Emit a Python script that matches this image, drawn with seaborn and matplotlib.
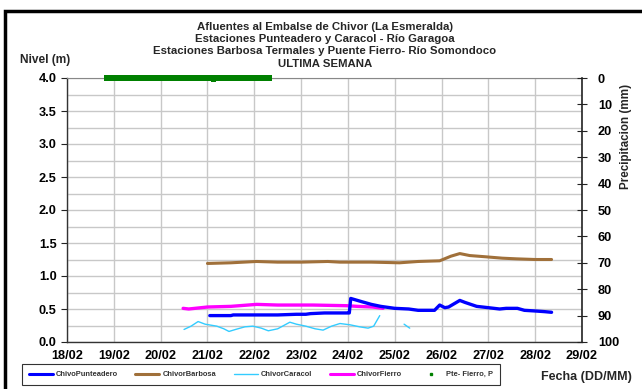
import matplotlib
matplotlib.use("Agg")
import matplotlib.pyplot as plt
from matplotlib.lines import Line2D
from matplotlib.patches import Rectangle
import numpy as np
import seaborn as sns

# --- data (time in days of February, level in m, rain in mm) ---
punteadero_t = [21.05, 21.5, 21.55, 22.0, 22.5, 22.9, 23.1, 23.2, 23.5, 24.0, 24.03,
                24.06, 24.3, 24.5, 24.7, 25.0, 25.3, 25.5, 25.85, 25.96, 26.07, 26.15,
                26.39, 26.5, 26.75, 27.0, 27.24, 27.38, 27.62, 27.77, 28.0, 28.2, 28.35]
punteadero_nivel = [0.40, 0.40, 0.41, 0.41, 0.41, 0.42, 0.42, 0.43, 0.44, 0.44, 0.44,
                    0.66, 0.61, 0.57, 0.54, 0.51, 0.50, 0.48, 0.48, 0.56, 0.52, 0.53,
                    0.63, 0.60, 0.54, 0.52, 0.50, 0.51, 0.51, 0.48, 0.47, 0.46, 0.45]

barbosa_t = [21.0, 21.5, 22.05, 22.5, 23.0, 23.57, 23.83, 24.5, 25.1, 25.5, 25.96,
             26.2, 26.39, 26.6, 26.96, 27.3, 27.6, 28.0, 28.35]
barbosa_nivel = [1.19, 1.20, 1.22, 1.21, 1.21, 1.22, 1.21, 1.21, 1.20, 1.22, 1.23,
                 1.30, 1.34, 1.31, 1.29, 1.27, 1.26, 1.25, 1.25]

caracol_t = [20.5, 20.65, 20.8, 20.95, 21.2, 21.35, 21.46, 21.6, 21.8, 21.97, 22.15,
             22.3, 22.5, 22.76, 22.9, 23.1, 23.3, 23.47, 23.65, 23.83, 24.05, 24.25,
             24.43, 24.55, 24.68]
caracol_nivel = [0.19, 0.24, 0.31, 0.27, 0.24, 0.20, 0.16, 0.19, 0.23, 0.24, 0.21,
                 0.17, 0.20, 0.30, 0.27, 0.24, 0.20, 0.18, 0.24, 0.28, 0.26, 0.23,
                 0.21, 0.24, 0.40]
caracol2_t = [25.2, 25.32]
caracol2_nivel = [0.27, 0.21]

fierro_t = [20.48, 20.6, 21.0, 21.5, 22.05, 22.5, 23.25, 23.97, 24.2, 24.53, 24.75]
fierro_nivel = [0.51, 0.50, 0.53, 0.54, 0.57, 0.56, 0.56, 0.55, 0.54, 0.53, 0.51]

# hourly rain at Pte-Fierro, 18/02 20:00 to 22/02 08:00
lluvia_inicio = 18 + 20 / 24
lluvia_mm = [0, 0, 0, 0, 0, 0, 0, 0, 0, 0, 0, 0,
             0, 0, 0, 0, 0, 0, 0, 0, 0, 0, 0, 0,
             0, 0, 0, 0, 0, 0, 0, 0, 0, 0, 0, 0,
             0, 0, 0, 0, 0, 0, 0, 0, 0, 0, 0, 0,
             0, 0, 0, 0, 0, 0, 0, 0.6, 0, 0, 0, 0,
             0, 0, 0, 0, 0, 0, 0, 0, 0, 0, 0, 0,
             0, 0, 0, 0, 0, 0, 0, 0, 0, 0, 0, 0, 0]
lluvia_t = [lluvia_inicio + i / 24 for i in range(len(lluvia_mm))]

dias = list(range(18, 30))
dia_labels = [f"{d}/02" for d in dias]

series_labels = ["ChivoPunteadero", "ChivorBarbosa", "ChivorCaracol", "ChivorFierro", "Pte- Fierro, P"]
c_punt, c_barb, c_cara, c_fier, c_rain = "#0000ff", "#a0703a", "#33ccff", "#ff00ff", "#008000"

titulo = ("Afluentes al Embalse de Chivor (La Esmeralda)\n"
          "Estaciones Punteadero y Caracol - Río Garagoa\n"
          "Estaciones Barbosa Termales y Puente Fierro- Río Somondoco\n"
          "ULTIMA SEMANA")

sns.set_style("white")
plt.rcParams["font.family"] = ["Liberation Sans", "DejaVu Sans"]
plt.rcParams["font.weight"] = "bold"

fig = plt.figure(figsize=(6.42, 3.89), dpi=100)
ax = fig.add_axes([67 / 642, 1 - 342 / 389, (582 - 67) / 642, (342 - 78) / 389])

# outer frame
fig.patches.append(Rectangle((5 / 642, -0.1), 1.2, 1 - 11 / 389 + 0.1, transform=fig.transFigure,
                             fill=False, edgecolor="black", linewidth=2.5, zorder=0))

ax.set_xlim(18, 29)
ax.set_ylim(0, 4)
ax.set_yticks(np.arange(0, 4.01, 0.5))
ax.set_yticks(np.arange(0, 4.01, 0.25), minor=True)
ax.set_xticks(dias)
ax.set_xticklabels(dia_labels)
ax.grid(True, which="both", axis="y", color="#c8c8c8", lw=1)
ax.grid(True, which="major", axis="x", color="#c8c8c8", lw=1)
ax.tick_params(axis="y", which="minor", length=0)
ax.tick_params(axis="both", which="major", labelsize=9.2, length=4, width=0.8,
               colors="#222222", direction="out")
ax.tick_params(axis="x", pad=2)
for lab in ax.get_xticklabels() + ax.get_yticklabels():
    lab.set_fontweight("bold")
    lab.set_color("black")
ax.yaxis.set_major_formatter(matplotlib.ticker.FormatStrFormatter("%.1f"))
for s in ["left", "bottom"]:
    ax.spines[s].set_color("#333333")
    ax.spines[s].set_linewidth(1)
ax.spines["top"].set_color("#888888")
ax.spines["top"].set_linewidth(0.8)
ax.spines["right"].set_visible(False)

sns.lineplot(x=barbosa_t, y=barbosa_nivel, ax=ax, color=c_barb, lw=2.2, sort=False, estimator=None)
sns.lineplot(x=caracol_t, y=caracol_nivel, ax=ax, color=c_cara, lw=1.0, sort=False, estimator=None)
sns.lineplot(x=caracol2_t, y=caracol2_nivel, ax=ax, color=c_cara, lw=1.0, sort=False, estimator=None)
sns.lineplot(x=fierro_t, y=fierro_nivel, ax=ax, color=c_fier, lw=2.4, sort=False, estimator=None)
sns.lineplot(x=punteadero_t, y=punteadero_nivel, ax=ax, color=c_punt, lw=2.4, sort=False, estimator=None)
ax.set_xlabel("")
ax.set_ylabel("")

# precipitation on inverted right axis
ax2 = ax.twinx()
sns.scatterplot(x=lluvia_t, y=lluvia_mm, ax=ax2, color=c_rain, s=13, marker="s",
                edgecolor="none", linewidth=0, zorder=5, clip_on=False)
ax2.set_ylim(100, 0)
ax2.set_yticks(range(0, 101, 10))
ax2.set_ylabel("")
ax2.tick_params(axis="y", labelsize=9.2, length=7, width=0.8, direction="inout",
                colors="#222222", pad=8)
for lab in ax2.get_yticklabels():
    lab.set_fontweight("bold")
    lab.set_color("black")
for s in ["left", "top", "bottom"]:
    ax2.spines[s].set_visible(False)
ax2.spines["right"].set_color("#222222")
ax2.spines["right"].set_linewidth(1.2)

# texts
fig.text(325 / 642, 1 - 22 / 389, titulo, ha="center", va="top", fontsize=8.2,
         fontweight="bold", linespacing=1.28)
fig.text(20 / 642, 1 - 60 / 389, "Nivel (m)", ha="left", va="center", fontsize=8.6, fontweight="bold")
fig.text(626 / 642, 1 - 136 / 389, "Precipitacion (mm)", ha="center", va="center",
         rotation=90, fontsize=8.4, fontweight="bold")
fig.text(586 / 642, 1 - 377 / 389, "Fecha (DD/MM)", ha="center", va="center",
         fontsize=9.0, fontweight="bold")

handles = [Line2D([], [], color=c_punt, lw=2.2),
           Line2D([], [], color=c_barb, lw=2.2),
           Line2D([], [], color=c_cara, lw=1.0),
           Line2D([], [], color=c_fier, lw=2.2),
           Line2D([], [], color=c_rain, lw=0, marker="s", markersize=1.8)]
leg = fig.legend(handles, series_labels, loc="lower left", ncol=5,
                 bbox_to_anchor=(22 / 642, 4 / 389, (500 - 22) / 642, 21 / 389),
                 mode="expand", fontsize=5.4, frameon=True, fancybox=False,
                 handlelength=3.2, handletextpad=0.4, borderpad=0.9, columnspacing=1.0,
                 borderaxespad=0)
leg.get_frame().set_edgecolor("black")
leg.get_frame().set_linewidth(0.8)
for t in leg.get_texts():
    t.set_color("#333333")

fig.savefig("out.png", dpi=100)
